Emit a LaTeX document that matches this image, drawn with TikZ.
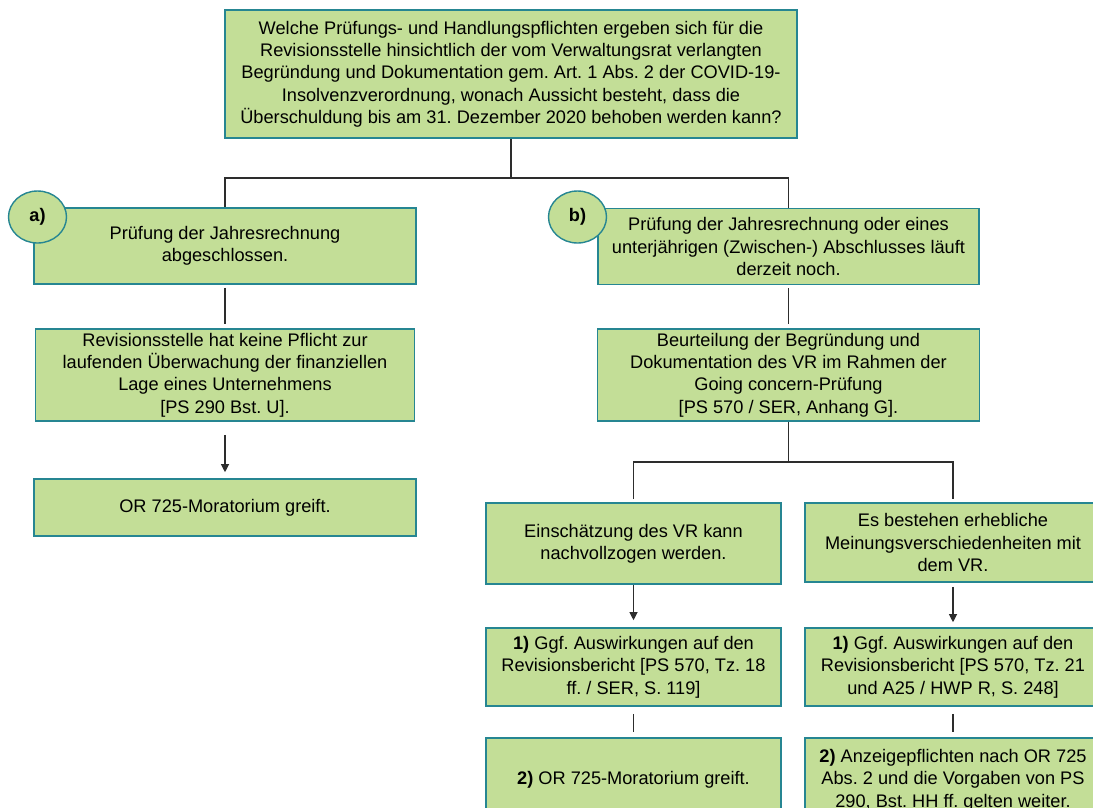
\documentclass[tikz,border=0pt]{standalone}
\usepackage{fontspec}
\setmainfont{Liberation Sans}
\usetikzlibrary{arrows.meta,shapes.geometric}
\definecolor{boxfill}{RGB}{195,222,151}
\definecolor{boxline}{RGB}{38,134,146}
\definecolor{conn}{RGB}{45,45,45}
\tikzset{
  box/.style={draw=boxline, fill=boxfill, line width=1.6pt, inner sep=0pt, align=center,
    font=\fontsize{18.2}{22.3}\selectfont},
  badge/.style={ellipse, draw=boxline, fill=boxfill, line width=1.4pt, inner sep=0pt,
    minimum width=58pt, minimum height=52pt, font=\fontsize{18.2}{22.3}\selectfont\bfseries},
  conline/.style={draw=conn, line width=1.1pt},
  arr/.style={conline, -{Triangle[length=8pt,width=8pt]}}
}
\begin{document}
\frenchspacing
\begin{tikzpicture}[x=1pt,y=1pt]
\useasboundingbox (0,0) rectangle (1093,-807);
% top
\node[box, minimum width=572pt, minimum height=128pt] (top) at (511,-74)
 {Welche Prüfungs- und Handlungspflichten ergeben sich für die\\
  Revisionsstelle hinsichtlich der vom Verwaltungsrat verlangten\\
  Begründung und Dokumentation gem. Art. 1 Abs. 2 der COVID-19-\\
  Insolvenzverordnung, wonach Aussicht besteht, dass die\\
  Überschuldung bis am 31. Dezember 2020 behoben werden kann?};
% left branch
\node[box, minimum width=382pt, minimum height=76pt] (a1) at (225,-246)
 {Prüfung der Jahresrechnung\\abgeschlossen.};
\node[box, minimum width=379pt, minimum height=92pt] (a2) at (225,-375)
 {Revisionsstelle hat keine Pflicht zur\\laufenden Überwachung der finanziellen\\Lage eines Unternehmens\\{[PS 290 Bst. U].}};
\node[box, minimum width=382pt, minimum height=57pt] (a3) at (225,-507.5)
 {OR 725-Moratorium greift.};
% right branch
\node[box, minimum width=381pt, minimum height=76pt] (b1) at (788.5,-246.5)
 {Prüfung der Jahresrechnung oder eines\\unterjährigen (Zwischen-) Abschlusses läuft\\derzeit noch.};
\node[box, minimum width=382pt, minimum height=92pt] (b2) at (788.5,-375)
 {Beurteilung der Begründung und\\Dokumentation des VR im Rahmen der\\Going concern-Prüfung\\{[PS 570 / SER, Anhang G].}};
\node[box, minimum width=295pt, minimum height=81pt] (c1) at (633.5,-543.5)
 {Einschätzung des VR kann\\nachvollzogen werden.};
\node[box, minimum width=296pt, minimum height=79pt] (d1) at (953,-542.5)
 {Es bestehen erhebliche\\Meinungsverschiedenheiten mit\\dem VR.};
\node[box, minimum width=295pt, minimum height=78pt] (c2) at (633.5,-667)
 {\textbf{1)} Ggf. Auswirkungen auf den\\Revisionsbericht [PS 570, Tz. 18\\ff. / SER, S. 119]};
\node[box, minimum width=296pt, minimum height=78pt] (d2) at (953,-667)
 {\textbf{1)} Ggf. Auswirkungen auf den\\Revisionsbericht [PS 570, Tz. 21\\und A25 / HWP R, S. 248]};
\node[box, minimum width=295pt, minimum height=84pt] (c3) at (633.5,-780)
 {\textbf{2)} OR 725-Moratorium greift.};
\node[box, minimum width=296pt, minimum height=84pt] (d3) at (953,-780)
 {\textbf{2)} Anzeigepflichten nach OR 725\\Abs. 2 und die Vorgaben von PS\\290, Bst. HH ff. gelten weiter.};
% badges
\node[badge] (ba) at (37.5,-217) {a)};
\node[badge] (bb) at (577.5,-217) {b)};
% junctions
\coordinate (j1) at (511,-178);
\coordinate (j2) at (788.5,-462);
% connectors
\draw[conline] (top.south) -- (j1);
\draw[conline] (a1.north) |- (j1) -| (b1.north);
\draw[conline, shorten <=3pt, shorten >=4pt] (a1.south) -- (a2.north);
\draw[arr, shorten <=13pt, shorten >=6pt] (a2.south) -- (a3.north);
\draw[conline, shorten <=3pt, shorten >=4pt] (b1.south) -- (b2.north);
\draw[conline] (b2.south) -- (j2);
\draw[conline, shorten <=3pt, shorten >=3pt] (c1.north) |- (j2) -| (d1.north);
\draw[arr, shorten >=7pt] (c1.south) -- (c2.north);
\draw[arr, shorten <=4pt, shorten >=5pt] (d1.south) -- (d2.north);
\draw[conline, shorten <=7pt, shorten >=5pt] (c2.south) -- (c3.north);
\draw[conline, shorten <=7pt, shorten >=5pt] (d2.south) -- (d3.north);
\end{tikzpicture}
\end{document}
